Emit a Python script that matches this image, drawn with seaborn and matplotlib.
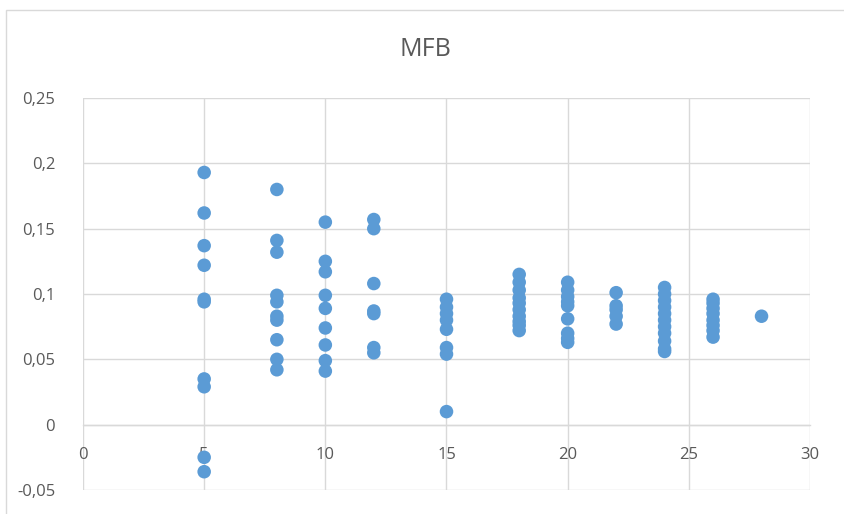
import numpy as np
import pandas as pd
import matplotlib
matplotlib.use("Agg")
import matplotlib.pyplot as plt
import seaborn as sns
from matplotlib.patches import Rectangle
from matplotlib.ticker import FuncFormatter, MultipleLocator

# MFB values grouped by their x position
mfb_5 = [0.193, 0.162, 0.137, 0.122, 0.096, 0.094, 0.035, 0.029, -0.025, -0.036]
mfb_8 = [0.180, 0.141, 0.132, 0.099, 0.094, 0.083, 0.080, 0.065, 0.050, 0.042]
mfb_10 = [0.155, 0.125, 0.117, 0.099, 0.089, 0.074, 0.061, 0.049, 0.041]
mfb_12 = [0.157, 0.150, 0.108, 0.087, 0.085, 0.059, 0.055]
mfb_15 = [0.096, 0.090, 0.085, 0.080, 0.073, 0.059, 0.054, 0.010]
mfb_18 = [0.115, 0.109, 0.103, 0.097, 0.093, 0.088, 0.083, 0.079, 0.076, 0.072]
mfb_20 = [0.109, 0.103, 0.098, 0.094, 0.091, 0.081, 0.070, 0.066, 0.063]
mfb_22 = [0.101, 0.091, 0.088, 0.083, 0.077]
mfb_24 = [0.105, 0.100, 0.095, 0.090, 0.085, 0.080, 0.075, 0.070, 0.064, 0.058, 0.056]
mfb_26 = [0.096, 0.093, 0.089, 0.085, 0.080, 0.076, 0.072, 0.067]
mfb_28 = [0.083]

x_positions = [5, 8, 10, 12, 15, 18, 20, 22, 24, 26, 28]
groups = [mfb_5, mfb_8, mfb_10, mfb_12, mfb_15, mfb_18, mfb_20,
          mfb_22, mfb_24, mfb_26, mfb_28]

df = pd.DataFrame({
    "x": np.concatenate([[x] * len(g) for x, g in zip(x_positions, groups)]),
    "mfb": np.concatenate(groups),
})

sns.set_theme(style="white")
plt.rcParams["font.family"] = ["Open Sans", "DejaVu Sans"]

W, H = 845, 514
fig = plt.figure(figsize=(W / 100, H / 100), dpi=100)
fig.patch.set_facecolor("white")

# chart-area frame
fig.patches.append(Rectangle((6 / W, -0.1), 1.2, 1 - 10 / H + 0.1,
                             transform=fig.transFigure, fill=False,
                             edgecolor="#d9d9d9", linewidth=1.0))

ax = fig.add_axes([83 / W, 1 - 490 / H, (810 - 83) / W, (490 - 98) / H])
ax.set_axisbelow(True)

sns.scatterplot(data=df, x="x", y="mfb", ax=ax, color="#5B9BD5", s=95,
                edgecolor="none", linewidth=0, zorder=3, legend=False)

ax.set_xlim(0, 30)
ax.set_ylim(-0.05, 0.25)
ax.xaxis.set_major_locator(MultipleLocator(5))
ax.yaxis.set_major_locator(MultipleLocator(0.05))

def comma(v, _):
    s = f"{v:.2f}".rstrip("0").rstrip(".")
    if s in ("-0", ""):
        s = "0"
    return s.replace(".", ",")

ax.yaxis.set_major_formatter(FuncFormatter(comma))
ax.xaxis.set_major_formatter(FuncFormatter(lambda v, _: f"{int(v)}"))

ax.grid(True, color="#d9d9d9", linewidth=1.0)
for side in ("top", "right", "left"):
    ax.spines[side].set_visible(False)
ax.spines["bottom"].set_position(("data", 0))
ax.spines["bottom"].set_color("#d9d9d9")
ax.spines["bottom"].set_linewidth(1.0)

ax.tick_params(axis="both", length=0, labelsize=12, labelcolor="#595959")
ax.tick_params(axis="y", pad=20)
ax.tick_params(axis="x", pad=16)
ax.set_xlabel("")
ax.set_ylabel("")

fig.text(425 / W, 1 - 50 / H, "MFB", ha="center", va="center",
         fontsize=18, color="#595959")

fig.savefig("out.png", dpi=100, facecolor="white")
